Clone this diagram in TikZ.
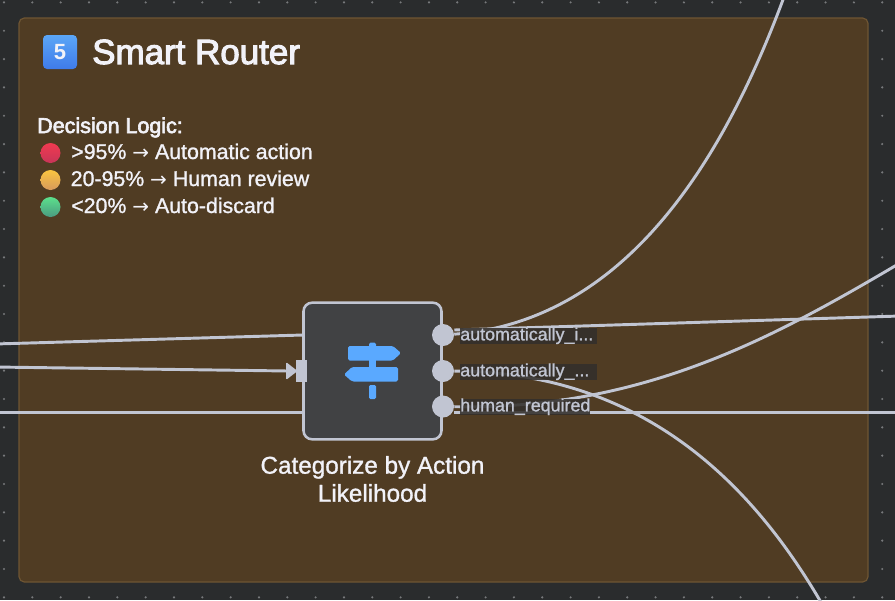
\documentclass[tikz,border=0pt]{standalone}
\usepackage{fontspec}
\setmainfont{Liberation Sans}
\newfontfamily\midf[FakeBold=1.2]{Liberation Sans}
\newfontfamily\semif[FakeBold=3]{Liberation Sans}
\newfontfamily\arrowf{DejaVu Sans}
\newcommand{\arw}{{\arrowf\fontsize{15}{14}\selectfont →}}
\definecolor{bgc}{HTML}{2A2C2D}
\definecolor{dotc}{HTML}{77797B}
\definecolor{panelc}{HTML}{503C23}
\definecolor{panelb}{HTML}{6E5533}
\definecolor{wirec}{HTML}{C1C5D2}
\definecolor{boxc}{HTML}{414244}
\definecolor{iconc}{HTML}{5AA9FF}
\definecolor{txtc}{HTML}{F2F2F8}
\definecolor{lblbg}{HTML}{332F2B}
\definecolor{redT}{HTML}{F03A50}\definecolor{redB}{HTML}{C83558}
\definecolor{yelT}{HTML}{FAC440}\definecolor{yelB}{HTML}{D79A5C}
\definecolor{grnT}{HTML}{5CE08C}\definecolor{grnB}{HTML}{4A9A80}
\definecolor{emoT}{HTML}{5BA6F6}\definecolor{emoB}{HTML}{3F7BEA}
\tikzset{
  wire/.style={draw=wirec,line width=2.2pt},
  port/.style={circle,fill=wirec,inner sep=0pt,minimum size=16.5pt},
  lbl/.style={fill=lblbg,fill opacity=.88,text opacity=1,text=wirec,font=\midf\fontsize{13.4}{14}\selectfont,inner sep=0pt,anchor=west,text height=9.5pt,text depth=3pt},
  txt/.style={text=txtc,inner sep=0pt,anchor=base west,font=\midf\fontsize{16}{17}\selectfont},
  ball/.style={circle,inner sep=0pt,minimum size=15pt},
}
\begin{document}
\begin{tikzpicture}[x=0.75pt,y=-0.75pt]
\useasboundingbox (0,0) rectangle (895,600);
\begin{scope}
\clip (0,0) rectangle (895,600);
\fill[bgc] (0,0) rectangle (895,600);
\foreach \i in {0,...,31} \foreach \j in {0,...,21}
  \fill[dotc] ({4+28.33*\i},{2.4+28.33*\j}) circle (0.9pt);
\draw[panelb,fill=panelc,line width=0.9pt,rounded corners=4pt] (19,18) rectangle (868,582);

% free ends
\coordinate (inA) at (-5,344);
\coordinate (inB) at (-5,367);
\coordinate (inC) at (-5,412.5);
\coordinate (outA) at (784,-3);
\coordinate (outB) at (900,316);
\coordinate (outC) at (822,604);
\coordinate (outD) at (900,263);
\coordinate (outE) at (900,412.6);

% node and ports
\node[draw=wirec,fill=boxc,line width=1.9pt,rounded corners=6.5pt,minimum width=103.5pt,minimum height=102.5pt,inner sep=0pt] (router) at (372.5,371) {};
\coordinate (rA) at (303,335);
\coordinate (rC) at (303,412.5);
\node[port] (p1) at (443,335) {};
\node[port] (p2) at (443,371) {};
\node[port] (p3) at (443,406.5) {};
\node[fill=wirec,minimum width=8pt,minimum height=16.5pt,inner sep=0pt] (inp) at (301.5,371) {};
\coordinate (tip) at (288,371);

% connectors
\draw[wire] (inA) -- (rA);
\draw[wire] (inB) -- (tip);
\draw[wire] (inC) -- (rC);
\draw[wire] (p1) .. controls (620,322) and (720,170) .. (outA);
\draw[wire] (p1.east) ++(0,-5) -- (outB);
\draw[wire] (p2) .. controls (640,372) and (750,480) .. (outC);
\draw[wire] (p3) .. controls (640,410) and (770,340) .. (outD);
\draw[wire] (p3.east) ++(0,6.1) -- (outE);
\fill[wirec,rounded corners=1pt] (286,362) -- (297.5,371) -- (286,380) -- cycle;

% icon
\fill[iconc,rounded corners=1pt] (369,347) -- (369,342.7) -- (376,342.7) -- (376,347) -- cycle;
\fill[iconc,rounded corners=1.2pt] (348,346) -- (393,346) -- (401,353) -- (393,360.5) -- (348,360.5) -- cycle;
\fill[iconc] (369,360) rectangle (376,367.5);
\fill[iconc,rounded corners=1.2pt] (352,367) -- (398,367) -- (398,381.5) -- (352,381.5) -- (344,374.5) -- cycle;
\fill[iconc,rounded corners=1pt] (369,385) rectangle (376,399);

% port labels
\node[lbl] (l1) at (460,336) {\makebox[102.5pt][l]{automatically\_i...}};
\node[lbl] (l2) at (460,372) {\makebox[102.5pt][l]{automatically\_...}};
\node[lbl] (l3) at (460,407) {\makebox[97pt][l]{human\_required}};

% node title
\node[text=txtc,align=center,inner sep=0pt,font=\midf\fontsize{18.2}{21}\selectfont] (cap) at (372.5,479) {Categorize by Action\\Likelihood};

% heading
\node[inner sep=0pt,minimum size=25.5pt,rounded corners=3pt,top color=emoT,bottom color=emoB] (emoji) at (60,52) {\color{txtc}\fontsize{16.5}{15}\selectfont\bfseries 5};
\node[txt,font=\semif\fontsize{26.2}{28}\selectfont,text=txtc] (title) at (92,64) {Smart Router};

% legend
\node[txt,font=\semif\fontsize{16.1}{17}\selectfont] (dl) at (37,133) {Decision Logic:};
\node[ball,top color=redT,bottom color=redB] (b1) at (50.5,153) {};
\node[ball,top color=yelT,bottom color=yelB] (b2) at (50.5,180) {};
\node[ball,top color=grnT,bottom color=grnB] (b3) at (50.5,207) {};
\node[txt] (t1) at (71,159) {>95\% \arw{} Automatic action};
\node[txt] (t2) at (70.5,186) {20-95\% \arw{} Human review};
\node[txt] (t3) at (71,213) {<20\% \arw{} Auto-discard};
\end{scope}
\end{tikzpicture}
\end{document}
